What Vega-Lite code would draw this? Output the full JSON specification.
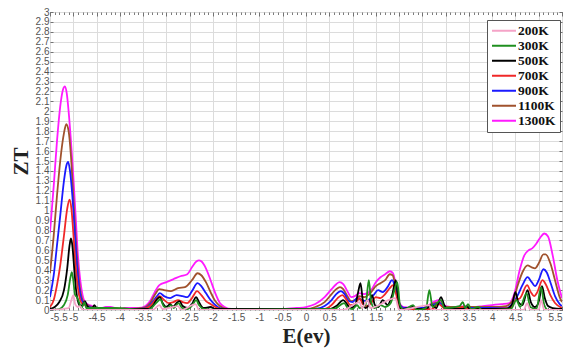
{
  "$schema": "https://vega.github.io/schema/vega-lite/v6.json",
  "autosize": {"type": "none"},
  "width": 512,
  "height": 298,
  "padding": {"left": 50, "top": 12, "right": 8, "bottom": 40},
  "background": "white",
  "config": {"view": {"stroke": "#333", "strokeWidth": 1}},
  "data": {"values": [
    {"T":"1300K","E":-5.5,"Z":0.78},{"T":"1300K","E":-5.42,"Z":1.25},{"T":"1300K","E":-5.35,"Z":1.7},{"T":"1300K","E":-5.28,"Z":2.05},{"T":"1300K","E":-5.22,"Z":2.22},{"T":"1300K","E":-5.18,"Z":2.25},{"T":"1300K","E":-5.14,"Z":2.18},{"T":"1300K","E":-5.1,"Z":2.0},{"T":"1300K","E":-5.05,"Z":1.7},{"T":"1300K","E":-5.0,"Z":1.35},{"T":"1300K","E":-4.95,"Z":0.95},{"T":"1300K","E":-4.9,"Z":0.55},{"T":"1300K","E":-4.85,"Z":0.3},{"T":"1300K","E":-4.8,"Z":0.15},{"T":"1300K","E":-4.75,"Z":0.08},{"T":"1300K","E":-4.7,"Z":0.06},{"T":"1300K","E":-4.6,"Z":0.04},{"T":"1300K","E":-4.5,"Z":0.02},{"T":"1300K","E":-4.4,"Z":0.02},{"T":"1300K","E":-4.3,"Z":0.03},{"T":"1300K","E":-4.2,"Z":0.03},{"T":"1300K","E":-4.1,"Z":0.02},{"T":"1300K","E":-4.0,"Z":0.01},{"T":"1300K","E":-3.9,"Z":0.02},{"T":"1300K","E":-3.6,"Z":0.02},{"T":"1300K","E":-3.45,"Z":0.04},{"T":"1300K","E":-3.35,"Z":0.09},{"T":"1300K","E":-3.25,"Z":0.18},{"T":"1300K","E":-3.15,"Z":0.25},{"T":"1300K","E":-3.0,"Z":0.28},{"T":"1300K","E":-2.85,"Z":0.31},{"T":"1300K","E":-2.7,"Z":0.34},{"T":"1300K","E":-2.55,"Z":0.36},{"T":"1300K","E":-2.45,"Z":0.43},{"T":"1300K","E":-2.35,"Z":0.49},{"T":"1300K","E":-2.3,"Z":0.5},{"T":"1300K","E":-2.25,"Z":0.49},{"T":"1300K","E":-2.15,"Z":0.42},{"T":"1300K","E":-2.05,"Z":0.3},{"T":"1300K","E":-1.95,"Z":0.17},{"T":"1300K","E":-1.85,"Z":0.07},{"T":"1300K","E":-1.75,"Z":0.03},{"T":"1300K","E":-1.6,"Z":0.01},{"T":"1300K","E":-0.5,"Z":0.01},{"T":"1300K","E":-0.2,"Z":0.02},{"T":"1300K","E":0.0,"Z":0.03},{"T":"1300K","E":0.2,"Z":0.06},{"T":"1300K","E":0.4,"Z":0.13},{"T":"1300K","E":0.55,"Z":0.21},{"T":"1300K","E":0.65,"Z":0.26},{"T":"1300K","E":0.72,"Z":0.28},{"T":"1300K","E":0.8,"Z":0.26},{"T":"1300K","E":0.9,"Z":0.18},{"T":"1300K","E":0.97,"Z":0.13},{"T":"1300K","E":1.05,"Z":0.14},{"T":"1300K","E":1.15,"Z":0.17},{"T":"1300K","E":1.25,"Z":0.16},{"T":"1300K","E":1.4,"Z":0.2},{"T":"1300K","E":1.5,"Z":0.28},{"T":"1300K","E":1.6,"Z":0.33},{"T":"1300K","E":1.7,"Z":0.36},{"T":"1300K","E":1.8,"Z":0.39},{"T":"1300K","E":1.87,"Z":0.37},{"T":"1300K","E":1.93,"Z":0.25},{"T":"1300K","E":2.0,"Z":0.08},{"T":"1300K","E":2.1,"Z":0.03},{"T":"1300K","E":2.5,"Z":0.02},{"T":"1300K","E":2.85,"Z":0.1},{"T":"1300K","E":3.0,"Z":0.04},{"T":"1300K","E":3.2,"Z":0.03},{"T":"1300K","E":3.4,"Z":0.04},{"T":"1300K","E":3.6,"Z":0.03},{"T":"1300K","E":3.8,"Z":0.04},{"T":"1300K","E":4.0,"Z":0.05},{"T":"1300K","E":4.2,"Z":0.06},{"T":"1300K","E":4.37,"Z":0.07},{"T":"1300K","E":4.48,"Z":0.17},{"T":"1300K","E":4.59,"Z":0.4},{"T":"1300K","E":4.69,"Z":0.55},{"T":"1300K","E":4.78,"Z":0.6},{"T":"1300K","E":4.86,"Z":0.62},{"T":"1300K","E":4.95,"Z":0.67},{"T":"1300K","E":5.05,"Z":0.74},{"T":"1300K","E":5.12,"Z":0.77},{"T":"1300K","E":5.2,"Z":0.74},{"T":"1300K","E":5.3,"Z":0.55},{"T":"1300K","E":5.4,"Z":0.3},{"T":"1300K","E":5.5,"Z":0.12},

    {"T":"1100K","E":-5.5,"Z":0.37},{"T":"1100K","E":-5.42,"Z":0.75},{"T":"1100K","E":-5.35,"Z":1.15},{"T":"1100K","E":-5.28,"Z":1.5},{"T":"1100K","E":-5.2,"Z":1.78},{"T":"1100K","E":-5.15,"Z":1.87},{"T":"1100K","E":-5.1,"Z":1.8},{"T":"1100K","E":-5.05,"Z":1.55},{"T":"1100K","E":-5.0,"Z":1.15},{"T":"1100K","E":-4.95,"Z":0.75},{"T":"1100K","E":-4.9,"Z":0.42},{"T":"1100K","E":-4.85,"Z":0.2},{"T":"1100K","E":-4.8,"Z":0.1},{"T":"1100K","E":-4.75,"Z":0.07},{"T":"1100K","E":-4.7,"Z":0.05},{"T":"1100K","E":-4.6,"Z":0.03},{"T":"1100K","E":-4.4,"Z":0.02},{"T":"1100K","E":-4.2,"Z":0.02},{"T":"1100K","E":-3.8,"Z":0.01},{"T":"1100K","E":-3.5,"Z":0.02},{"T":"1100K","E":-3.35,"Z":0.07},{"T":"1100K","E":-3.25,"Z":0.15},{"T":"1100K","E":-3.15,"Z":0.21},{"T":"1100K","E":-3.05,"Z":0.2},{"T":"1100K","E":-2.9,"Z":0.19},{"T":"1100K","E":-2.75,"Z":0.22},{"T":"1100K","E":-2.6,"Z":0.23},{"T":"1100K","E":-2.45,"Z":0.3},{"T":"1100K","E":-2.33,"Z":0.37},{"T":"1100K","E":-2.25,"Z":0.35},{"T":"1100K","E":-2.15,"Z":0.28},{"T":"1100K","E":-2.05,"Z":0.18},{"T":"1100K","E":-1.95,"Z":0.09},{"T":"1100K","E":-1.85,"Z":0.04},{"T":"1100K","E":-1.7,"Z":0.01},{"T":"1100K","E":0.0,"Z":0.01},{"T":"1100K","E":0.2,"Z":0.03},{"T":"1100K","E":0.4,"Z":0.08},{"T":"1100K","E":0.55,"Z":0.16},{"T":"1100K","E":0.65,"Z":0.21},{"T":"1100K","E":0.73,"Z":0.23},{"T":"1100K","E":0.8,"Z":0.21},{"T":"1100K","E":0.9,"Z":0.13},{"T":"1100K","E":0.97,"Z":0.09},{"T":"1100K","E":1.05,"Z":0.1},{"T":"1100K","E":1.15,"Z":0.14},{"T":"1100K","E":1.25,"Z":0.13},{"T":"1100K","E":1.4,"Z":0.18},{"T":"1100K","E":1.5,"Z":0.24},{"T":"1100K","E":1.6,"Z":0.27},{"T":"1100K","E":1.7,"Z":0.3},{"T":"1100K","E":1.8,"Z":0.36},{"T":"1100K","E":1.86,"Z":0.35},{"T":"1100K","E":1.93,"Z":0.22},{"T":"1100K","E":2.0,"Z":0.07},{"T":"1100K","E":2.1,"Z":0.02},{"T":"1100K","E":2.5,"Z":0.02},{"T":"1100K","E":2.85,"Z":0.08},{"T":"1100K","E":3.0,"Z":0.03},{"T":"1100K","E":3.5,"Z":0.03},{"T":"1100K","E":4.0,"Z":0.03},{"T":"1100K","E":4.3,"Z":0.04},{"T":"1100K","E":4.45,"Z":0.1},{"T":"1100K","E":4.55,"Z":0.25},{"T":"1100K","E":4.65,"Z":0.38},{"T":"1100K","E":4.76,"Z":0.45},{"T":"1100K","E":4.85,"Z":0.43},{"T":"1100K","E":4.92,"Z":0.42},{"T":"1100K","E":5.0,"Z":0.47},{"T":"1100K","E":5.1,"Z":0.56},{"T":"1100K","E":5.15,"Z":0.56},{"T":"1100K","E":5.25,"Z":0.47},{"T":"1100K","E":5.35,"Z":0.3},{"T":"1100K","E":5.45,"Z":0.13},{"T":"1100K","E":5.5,"Z":0.08},

    {"T":"900K","E":-5.5,"Z":0.13},{"T":"900K","E":-5.42,"Z":0.35},{"T":"900K","E":-5.35,"Z":0.65},{"T":"900K","E":-5.28,"Z":0.95},{"T":"900K","E":-5.2,"Z":1.3},{"T":"900K","E":-5.15,"Z":1.45},{"T":"900K","E":-5.11,"Z":1.49},{"T":"900K","E":-5.07,"Z":1.4},{"T":"900K","E":-5.02,"Z":1.15},{"T":"900K","E":-4.97,"Z":0.8},{"T":"900K","E":-4.92,"Z":0.45},{"T":"900K","E":-4.87,"Z":0.22},{"T":"900K","E":-4.82,"Z":0.1},{"T":"900K","E":-4.75,"Z":0.06},{"T":"900K","E":-4.65,"Z":0.03},{"T":"900K","E":-4.4,"Z":0.01},{"T":"900K","E":-3.6,"Z":0.01},{"T":"900K","E":-3.4,"Z":0.03},{"T":"900K","E":-3.3,"Z":0.08},{"T":"900K","E":-3.2,"Z":0.14},{"T":"900K","E":-3.14,"Z":0.17},{"T":"900K","E":-3.05,"Z":0.14},{"T":"900K","E":-2.92,"Z":0.12},{"T":"900K","E":-2.78,"Z":0.15},{"T":"900K","E":-2.65,"Z":0.14},{"T":"900K","E":-2.55,"Z":0.13},{"T":"900K","E":-2.45,"Z":0.19},{"T":"900K","E":-2.33,"Z":0.27},{"T":"900K","E":-2.25,"Z":0.24},{"T":"900K","E":-2.15,"Z":0.17},{"T":"900K","E":-2.05,"Z":0.1},{"T":"900K","E":-1.95,"Z":0.05},{"T":"900K","E":-1.85,"Z":0.02},{"T":"900K","E":-1.7,"Z":0.01},{"T":"900K","E":0.2,"Z":0.01},{"T":"900K","E":0.4,"Z":0.04},{"T":"900K","E":0.55,"Z":0.1},{"T":"900K","E":0.65,"Z":0.16},{"T":"900K","E":0.75,"Z":0.19},{"T":"900K","E":0.83,"Z":0.16},{"T":"900K","E":0.92,"Z":0.09},{"T":"900K","E":1.0,"Z":0.08},{"T":"900K","E":1.1,"Z":0.12},{"T":"900K","E":1.2,"Z":0.1},{"T":"900K","E":1.3,"Z":0.09},{"T":"900K","E":1.45,"Z":0.15},{"T":"900K","E":1.55,"Z":0.2},{"T":"900K","E":1.65,"Z":0.18},{"T":"900K","E":1.75,"Z":0.23},{"T":"900K","E":1.85,"Z":0.3},{"T":"900K","E":1.92,"Z":0.22},{"T":"900K","E":2.0,"Z":0.06},{"T":"900K","E":2.1,"Z":0.02},{"T":"900K","E":2.5,"Z":0.02},{"T":"900K","E":2.87,"Z":0.07},{"T":"900K","E":3.0,"Z":0.02},{"T":"900K","E":4.3,"Z":0.02},{"T":"900K","E":4.45,"Z":0.07},{"T":"900K","E":4.55,"Z":0.15},{"T":"900K","E":4.65,"Z":0.25},{"T":"900K","E":4.76,"Z":0.33},{"T":"900K","E":4.85,"Z":0.28},{"T":"900K","E":4.92,"Z":0.24},{"T":"900K","E":5.0,"Z":0.3},{"T":"900K","E":5.1,"Z":0.41},{"T":"900K","E":5.17,"Z":0.38},{"T":"900K","E":5.25,"Z":0.28},{"T":"900K","E":5.35,"Z":0.14},{"T":"900K","E":5.45,"Z":0.06},{"T":"900K","E":5.5,"Z":0.04},

    {"T":"700K","E":-5.5,"Z":0.03},{"T":"700K","E":-5.42,"Z":0.1},{"T":"700K","E":-5.35,"Z":0.25},{"T":"700K","E":-5.28,"Z":0.45},{"T":"700K","E":-5.2,"Z":0.75},{"T":"700K","E":-5.13,"Z":1.02},{"T":"700K","E":-5.08,"Z":1.11},{"T":"700K","E":-5.04,"Z":1.02},{"T":"700K","E":-5.0,"Z":0.78},{"T":"700K","E":-4.95,"Z":0.45},{"T":"700K","E":-4.9,"Z":0.22},{"T":"700K","E":-4.85,"Z":0.1},{"T":"700K","E":-4.8,"Z":0.06},{"T":"700K","E":-4.74,"Z":0.05},{"T":"700K","E":-4.65,"Z":0.02},{"T":"700K","E":-4.4,"Z":0.01},{"T":"700K","E":-3.5,"Z":0.01},{"T":"700K","E":-3.35,"Z":0.04},{"T":"700K","E":-3.22,"Z":0.11},{"T":"700K","E":-3.14,"Z":0.14},{"T":"700K","E":-3.05,"Z":0.1},{"T":"700K","E":-2.95,"Z":0.07},{"T":"700K","E":-2.85,"Z":0.08},{"T":"700K","E":-2.75,"Z":0.1},{"T":"700K","E":-2.65,"Z":0.08},{"T":"700K","E":-2.55,"Z":0.07},{"T":"700K","E":-2.45,"Z":0.12},{"T":"700K","E":-2.34,"Z":0.19},{"T":"700K","E":-2.25,"Z":0.15},{"T":"700K","E":-2.15,"Z":0.09},{"T":"700K","E":-2.05,"Z":0.06},{"T":"700K","E":-1.95,"Z":0.03},{"T":"700K","E":-1.8,"Z":0.01},{"T":"700K","E":0.4,"Z":0.01},{"T":"700K","E":0.55,"Z":0.05},{"T":"700K","E":0.68,"Z":0.12},{"T":"700K","E":0.78,"Z":0.15},{"T":"700K","E":0.86,"Z":0.11},{"T":"700K","E":0.95,"Z":0.05},{"T":"700K","E":1.05,"Z":0.06},{"T":"700K","E":1.15,"Z":0.12},{"T":"700K","E":1.22,"Z":0.06},{"T":"700K","E":1.3,"Z":0.04},{"T":"700K","E":1.4,"Z":0.07},{"T":"700K","E":1.5,"Z":0.13},{"T":"700K","E":1.6,"Z":0.12},{"T":"700K","E":1.7,"Z":0.16},{"T":"700K","E":1.8,"Z":0.22},{"T":"700K","E":1.87,"Z":0.25},{"T":"700K","E":1.93,"Z":0.17},{"T":"700K","E":2.0,"Z":0.04},{"T":"700K","E":2.1,"Z":0.01},{"T":"700K","E":2.7,"Z":0.01},{"T":"700K","E":2.85,"Z":0.06},{"T":"700K","E":3.0,"Z":0.01},{"T":"700K","E":3.4,"Z":0.03},{"T":"700K","E":3.5,"Z":0.01},{"T":"700K","E":4.4,"Z":0.02},{"T":"700K","E":4.5,"Z":0.1},{"T":"700K","E":4.6,"Z":0.12},{"T":"700K","E":4.75,"Z":0.25},{"T":"700K","E":4.83,"Z":0.18},{"T":"700K","E":4.9,"Z":0.14},{"T":"700K","E":4.97,"Z":0.18},{"T":"700K","E":5.08,"Z":0.3},{"T":"700K","E":5.15,"Z":0.26},{"T":"700K","E":5.25,"Z":0.15},{"T":"700K","E":5.35,"Z":0.07},{"T":"700K","E":5.5,"Z":0.02},

    {"T":"500K","E":-5.5,"Z":0.01},{"T":"500K","E":-5.4,"Z":0.03},{"T":"500K","E":-5.3,"Z":0.08},{"T":"500K","E":-5.2,"Z":0.2},{"T":"500K","E":-5.13,"Z":0.42},{"T":"500K","E":-5.08,"Z":0.65},{"T":"500K","E":-5.05,"Z":0.72},{"T":"500K","E":-5.02,"Z":0.65},{"T":"500K","E":-4.98,"Z":0.42},{"T":"500K","E":-4.94,"Z":0.2},{"T":"500K","E":-4.9,"Z":0.09},{"T":"500K","E":-4.85,"Z":0.04},{"T":"500K","E":-4.8,"Z":0.05},{"T":"500K","E":-4.75,"Z":0.09},{"T":"500K","E":-4.7,"Z":0.04},{"T":"500K","E":-4.6,"Z":0.01},{"T":"500K","E":-4.55,"Z":0.05},{"T":"500K","E":-4.5,"Z":0.02},{"T":"500K","E":-4.4,"Z":0.01},{"T":"500K","E":-3.4,"Z":0.01},{"T":"500K","E":-3.28,"Z":0.05},{"T":"500K","E":-3.2,"Z":0.11},{"T":"500K","E":-3.14,"Z":0.13},{"T":"500K","E":-3.08,"Z":0.07},{"T":"500K","E":-3.0,"Z":0.03},{"T":"500K","E":-2.92,"Z":0.06},{"T":"500K","E":-2.86,"Z":0.03},{"T":"500K","E":-2.78,"Z":0.07},{"T":"500K","E":-2.72,"Z":0.09},{"T":"500K","E":-2.65,"Z":0.04},{"T":"500K","E":-2.55,"Z":0.02},{"T":"500K","E":-2.45,"Z":0.06},{"T":"500K","E":-2.36,"Z":0.13},{"T":"500K","E":-2.3,"Z":0.08},{"T":"500K","E":-2.2,"Z":0.02},{"T":"500K","E":-2.05,"Z":0.03},{"T":"500K","E":-1.95,"Z":0.01},{"T":"500K","E":0.5,"Z":0.01},{"T":"500K","E":0.65,"Z":0.04},{"T":"500K","E":0.8,"Z":0.1},{"T":"500K","E":0.88,"Z":0.06},{"T":"500K","E":0.95,"Z":0.02},{"T":"500K","E":1.05,"Z":0.04},{"T":"500K","E":1.12,"Z":0.18},{"T":"500K","E":1.17,"Z":0.27},{"T":"500K","E":1.22,"Z":0.1},{"T":"500K","E":1.28,"Z":0.02},{"T":"500K","E":1.35,"Z":0.05},{"T":"500K","E":1.42,"Z":0.15},{"T":"500K","E":1.48,"Z":0.05},{"T":"500K","E":1.55,"Z":0.03},{"T":"500K","E":1.65,"Z":0.1},{"T":"500K","E":1.75,"Z":0.05},{"T":"500K","E":1.85,"Z":0.15},{"T":"500K","E":1.93,"Z":0.3},{"T":"500K","E":1.98,"Z":0.12},{"T":"500K","E":2.05,"Z":0.01},{"T":"500K","E":2.3,"Z":0.03},{"T":"500K","E":2.4,"Z":0.01},{"T":"500K","E":2.6,"Z":0.02},{"T":"500K","E":2.7,"Z":0.05},{"T":"500K","E":2.8,"Z":0.02},{"T":"500K","E":2.9,"Z":0.13},{"T":"500K","E":2.97,"Z":0.05},{"T":"500K","E":3.05,"Z":0.01},{"T":"500K","E":3.38,"Z":0.01},{"T":"500K","E":3.45,"Z":0.04},{"T":"500K","E":3.52,"Z":0.01},{"T":"500K","E":4.3,"Z":0.01},{"T":"500K","E":4.42,"Z":0.05},{"T":"500K","E":4.5,"Z":0.18},{"T":"500K","E":4.56,"Z":0.08},{"T":"500K","E":4.65,"Z":0.05},{"T":"500K","E":4.76,"Z":0.2},{"T":"500K","E":4.83,"Z":0.08},{"T":"500K","E":4.92,"Z":0.03},{"T":"500K","E":5.0,"Z":0.08},{"T":"500K","E":5.07,"Z":0.24},{"T":"500K","E":5.13,"Z":0.12},{"T":"500K","E":5.2,"Z":0.04},{"T":"500K","E":5.3,"Z":0.02},{"T":"500K","E":5.5,"Z":0.01},

    {"T":"300K","E":-5.5,"Z":0.0},{"T":"300K","E":-5.3,"Z":0.01},{"T":"300K","E":-5.2,"Z":0.05},{"T":"300K","E":-5.12,"Z":0.15},{"T":"300K","E":-5.06,"Z":0.33},{"T":"300K","E":-5.03,"Z":0.38},{"T":"300K","E":-5.0,"Z":0.3},{"T":"300K","E":-4.96,"Z":0.15},{"T":"300K","E":-4.92,"Z":0.13},{"T":"300K","E":-4.87,"Z":0.07},{"T":"300K","E":-4.82,"Z":0.02},{"T":"300K","E":-4.76,"Z":0.08},{"T":"300K","E":-4.72,"Z":0.02},{"T":"300K","E":-4.55,"Z":0.02},{"T":"300K","E":-4.2,"Z":0.02},{"T":"300K","E":-3.4,"Z":0.0},{"T":"300K","E":-3.28,"Z":0.04},{"T":"300K","E":-3.18,"Z":0.09},{"T":"300K","E":-3.13,"Z":0.11},{"T":"300K","E":-3.06,"Z":0.04},{"T":"300K","E":-2.98,"Z":0.02},{"T":"300K","E":-2.9,"Z":0.05},{"T":"300K","E":-2.84,"Z":0.02},{"T":"300K","E":-2.74,"Z":0.07},{"T":"300K","E":-2.66,"Z":0.02},{"T":"300K","E":-2.55,"Z":0.01},{"T":"300K","E":-2.44,"Z":0.05},{"T":"300K","E":-2.36,"Z":0.1},{"T":"300K","E":-2.3,"Z":0.05},{"T":"300K","E":-2.2,"Z":0.01},{"T":"300K","E":-1.95,"Z":0.0},{"T":"300K","E":0.6,"Z":0.01},{"T":"300K","E":0.82,"Z":0.07},{"T":"300K","E":0.9,"Z":0.02},{"T":"300K","E":1.0,"Z":0.01},{"T":"300K","E":1.1,"Z":0.05},{"T":"300K","E":1.15,"Z":0.02},{"T":"300K","E":1.28,"Z":0.05},{"T":"300K","E":1.35,"Z":0.3},{"T":"300K","E":1.4,"Z":0.08},{"T":"300K","E":1.47,"Z":0.02},{"T":"300K","E":1.6,"Z":0.05},{"T":"300K","E":1.7,"Z":0.03},{"T":"300K","E":1.82,"Z":0.07},{"T":"300K","E":1.9,"Z":0.2},{"T":"300K","E":1.96,"Z":0.28},{"T":"300K","E":2.02,"Z":0.05},{"T":"300K","E":2.1,"Z":0.0},{"T":"300K","E":2.3,"Z":0.05},{"T":"300K","E":2.38,"Z":0.0},{"T":"300K","E":2.58,"Z":0.02},{"T":"300K","E":2.65,"Z":0.2},{"T":"300K","E":2.72,"Z":0.03},{"T":"300K","E":2.9,"Z":0.1},{"T":"300K","E":2.97,"Z":0.02},{"T":"300K","E":3.3,"Z":0.04},{"T":"300K","E":3.37,"Z":0.08},{"T":"300K","E":3.42,"Z":0.02},{"T":"300K","E":3.48,"Z":0.06},{"T":"300K","E":3.55,"Z":0.01},{"T":"300K","E":3.7,"Z":0.03},{"T":"300K","E":3.78,"Z":0.0},{"T":"300K","E":4.4,"Z":0.01},{"T":"300K","E":4.52,"Z":0.1},{"T":"300K","E":4.6,"Z":0.03},{"T":"300K","E":4.74,"Z":0.17},{"T":"300K","E":4.82,"Z":0.03},{"T":"300K","E":4.95,"Z":0.01},{"T":"300K","E":5.05,"Z":0.23},{"T":"300K","E":5.12,"Z":0.05},{"T":"300K","E":5.2,"Z":0.0},{"T":"300K","E":5.5,"Z":0.0},

    {"T":"200K","E":-5.5,"Z":0.0},{"T":"200K","E":-5.1,"Z":0.02},{"T":"200K","E":-5.04,"Z":0.1},{"T":"200K","E":-5.0,"Z":0.15},{"T":"200K","E":-4.96,"Z":0.06},{"T":"200K","E":-4.9,"Z":0.03},{"T":"200K","E":-4.85,"Z":0.04},{"T":"200K","E":-4.8,"Z":0.0},{"T":"200K","E":-3.3,"Z":0.0},{"T":"200K","E":-3.15,"Z":0.05},{"T":"200K","E":-3.08,"Z":0.01},{"T":"200K","E":-2.75,"Z":0.04},{"T":"200K","E":-2.68,"Z":0.0},{"T":"200K","E":-2.37,"Z":0.06},{"T":"200K","E":-2.3,"Z":0.0},{"T":"200K","E":0.8,"Z":0.0},{"T":"200K","E":1.15,"Z":0.08},{"T":"200K","E":1.2,"Z":0.02},{"T":"200K","E":1.33,"Z":0.1},{"T":"200K","E":1.38,"Z":0.02},{"T":"200K","E":1.92,"Z":0.12},{"T":"200K","E":2.0,"Z":0.0},{"T":"200K","E":2.65,"Z":0.05},{"T":"200K","E":2.7,"Z":0.0},{"T":"200K","E":4.68,"Z":0.0},{"T":"200K","E":4.75,"Z":0.07},{"T":"200K","E":4.82,"Z":0.0},{"T":"200K","E":5.0,"Z":0.0},{"T":"200K","E":5.05,"Z":0.1},{"T":"200K","E":5.12,"Z":0.0},{"T":"200K","E":5.5,"Z":0.0}
  ]},
  "layer": [
    {
      "mark": {"type": "line", "interpolate": "monotone", "strokeWidth": 1.8, "clip": true},
      "encoding": {
        "x": {"field": "E", "type": "quantitative",
          "scale": {"domain": [-5.5, 5.5], "nice": false, "zero": false},
          "axis": {
            "orient": "bottom", "title": "E(ev)",
            "values": [-5.5,-5.4,-5.3,-5.2,-5.1,-5,-4.9,-4.8,-4.7,-4.6,-4.5,-4.4,-4.3,-4.2,-4.1,-4,-3.9,-3.8,-3.7,-3.6,-3.5,-3.4,-3.3,-3.2,-3.1,-3,-2.9,-2.8,-2.7,-2.6,-2.5,-2.4,-2.3,-2.2,-2.1,-2,-1.9,-1.8,-1.7,-1.6,-1.5,-1.4,-1.3,-1.2,-1.1,-1,-0.9,-0.8,-0.7,-0.6,-0.5,-0.4,-0.3,-0.2,-0.1,0,0.1,0.2,0.3,0.4,0.5,0.6,0.7,0.8,0.9,1,1.1,1.2,1.3,1.4,1.5,1.6,1.7,1.8,1.9,2,2.1,2.2,2.3,2.4,2.5,2.6,2.7,2.8,2.9,3,3.1,3.2,3.3,3.4,3.5,3.6,3.7,3.8,3.9,4,4.1,4.2,4.3,4.4,4.5,4.6,4.7,4.8,4.9,5,5.1,5.2,5.3,5.4,5.5],
            "format": "~g",
            "labelExpr": "abs(datum.value*2 - round(datum.value*2)) < 0.01 ? replace(datum.label, '−', '-') : ''",
            "labelOverlap": false, "labelBound": false,
            "labelFont": "Liberation Sans", "labelFontSize": 10, "labelColor": "#555",
            "labelPadding": 6,
            "grid": true, "gridColor": "#dcdcdc", "gridWidth": 1,
            "gridOpacity": {"condition": {"test": "abs(datum.value*2 - round(datum.value*2)) < 0.01", "value": 1}, "value": 0},
            "ticks": true, "tickColor": "#444", "tickWidth": 0.7,
            "tickSize": {"condition": {"test": "abs(datum.value*2 - round(datum.value*2)) < 0.01", "value": -4}, "value": -2.5},
            "domain": false,
            "titleFont": "Liberation Serif", "titleFontSize": 21, "titleFontWeight": "bold", "titleColor": "#222", "titlePadding": 2
          }
        },
        "y": {"field": "Z", "type": "quantitative",
          "scale": {"domain": [0, 3], "nice": false},
          "axis": {
            "orient": "left", "title": "ZT",
            "values": [0,0.1,0.2,0.3,0.4,0.5,0.6,0.7,0.8,0.9,1,1.1,1.2,1.3,1.4,1.5,1.6,1.7,1.8,1.9,2,2.1,2.2,2.3,2.4,2.5,2.6,2.7,2.8,2.9,3],
            "format": "~g",
            "labelOverlap": false, "labelBound": false,
            "labelFont": "Liberation Sans", "labelFontSize": 10, "labelColor": "#555",
            "labelPadding": 4,
            "grid": true, "gridColor": "#dcdcdc", "gridWidth": 1,
            "ticks": true, "tickSize": -3, "tickColor": "#444", "tickWidth": 0.7,
            "domain": false,
            "titleFont": "Liberation Serif", "titleFontSize": 21, "titleFontWeight": "bold", "titleColor": "#222", "titlePadding": 4
          }
        },
        "color": {"field": "T", "type": "nominal",
          "scale": {
            "domain": ["200K","300K","500K","700K","900K","1100K","1300K"],
            "range": ["#f5a3c7","#1f8f1f","#000000","#f02828","#1a1aff","#a0522d","#ff1aff"]
          },
          "legend": {
            "orient": "none", "legendX": 437, "legendY": 8,
            "title": null,
            "symbolType": "stroke", "symbolSize": 576, "symbolStrokeWidth": 2,
            "labelFont": "Liberation Serif", "labelFontSize": 13.5, "labelFontWeight": "bold", "labelColor": "#111",
            "strokeColor": "#555", "fillColor": "white", "padding": 4, "rowPadding": 0, "clipHeight": 13.4, "labelOffset": 1
          }
        }
      }
    },
    {
      "mark": {"type": "line", "strokeOpacity": 0, "interpolate": "monotone"},
      "encoding": {
        "x": {"field": "E", "type": "quantitative",
          "scale": {"domain": [-5.5, 5.5], "nice": false, "zero": false},
          "axis": {
            "orient": "top", "title": null, "labels": false, "grid": false, "domain": false,
            "values": [-5.5,-5.4,-5.3,-5.2,-5.1,-5,-4.9,-4.8,-4.7,-4.6,-4.5,-4.4,-4.3,-4.2,-4.1,-4,-3.9,-3.8,-3.7,-3.6,-3.5,-3.4,-3.3,-3.2,-3.1,-3,-2.9,-2.8,-2.7,-2.6,-2.5,-2.4,-2.3,-2.2,-2.1,-2,-1.9,-1.8,-1.7,-1.6,-1.5,-1.4,-1.3,-1.2,-1.1,-1,-0.9,-0.8,-0.7,-0.6,-0.5,-0.4,-0.3,-0.2,-0.1,0,0.1,0.2,0.3,0.4,0.5,0.6,0.7,0.8,0.9,1,1.1,1.2,1.3,1.4,1.5,1.6,1.7,1.8,1.9,2,2.1,2.2,2.3,2.4,2.5,2.6,2.7,2.8,2.9,3,3.1,3.2,3.3,3.4,3.5,3.6,3.7,3.8,3.9,4,4.1,4.2,4.3,4.4,4.5,4.6,4.7,4.8,4.9,5,5.1,5.2,5.3,5.4,5.5],
            "tickColor": "#444", "tickWidth": 0.7,
            "tickSize": {"condition": {"test": "abs(datum.value*2 - round(datum.value*2)) < 0.01", "value": -4}, "value": -2.5}
          }
        },
        "y": {"field": "Z", "type": "quantitative",
          "scale": {"domain": [0, 3], "nice": false},
          "axis": {
            "orient": "right", "title": null, "labels": false, "grid": false, "domain": false,
            "values": [0,0.1,0.2,0.3,0.4,0.5,0.6,0.7,0.8,0.9,1,1.1,1.2,1.3,1.4,1.5,1.6,1.7,1.8,1.9,2,2.1,2.2,2.3,2.4,2.5,2.6,2.7,2.8,2.9,3],
            "tickColor": "#444", "tickWidth": 0.7, "tickSize": -3
          }
        },
        "detail": {"field": "T", "type": "nominal"}
      }
    }
  ],
  "resolve": {"axis": {"x": "independent", "y": "independent"}}
}
